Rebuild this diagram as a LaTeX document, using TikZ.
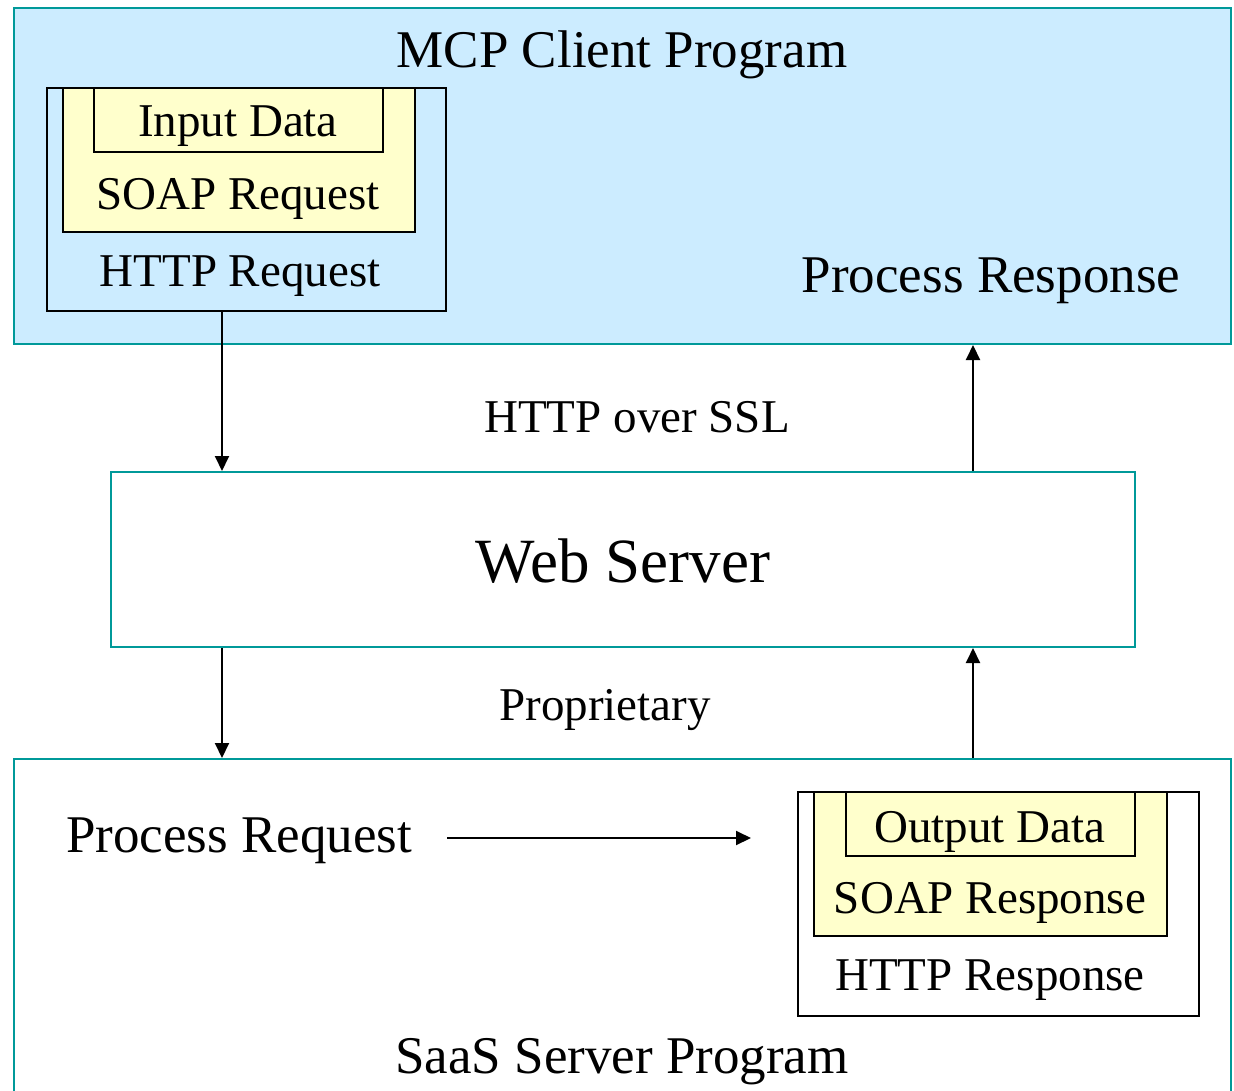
\documentclass[tikz,border=0pt]{standalone}
\usepackage{fontspec}
\setmainfont{Liberation Serif}
\usetikzlibrary{arrows.meta}
\definecolor{lblue}{HTML}{CCECFF}
\definecolor{lyellow}{HTML}{FFFFCC}
\definecolor{teal2}{HTML}{009999}
\begin{document}
\begin{tikzpicture}[x=1pt,y=-1pt,
  outerbox/.style={draw=teal2,line width=2pt,anchor=north west,inner sep=0pt},
  blackbox/.style={draw=black,line width=2pt,anchor=north west,inner sep=0pt},
  big/.style={font=\fontsize{53}{60}\selectfont,anchor=base,inner sep=0pt},
  med/.style={font=\fontsize{47}{54}\selectfont,anchor=base,inner sep=0pt},
  huge/.style={font=\fontsize{63}{70}\selectfont,anchor=base,inner sep=0pt},
  arr/.style={line width=2pt,-{Triangle[length=15pt,width=14pt]}}]
\useasboundingbox (0,0) rectangle (1234,1091);
\fill[white] (0,0) rectangle (1234,1091);
% top client box
\node[outerbox,fill=lblue,minimum width=1217pt,minimum height=336pt] (client) at (13,7) {};
\node[blackbox,minimum width=399pt,minimum height=223pt] (httpreq) at (46,87) {};
\node[blackbox,fill=lyellow,minimum width=352pt,minimum height=144pt] (soapreq) at (62,87) {};
\node[blackbox,minimum width=289pt,minimum height=64pt] (indata) at (93,87) {};
\node[big] (t1) at (622,68) {MCP Client Program};
\node[med] (t2) at (238,137) {Input Data};
\node[med] (t3) at (238,210) {SOAP Request};
\node[med] (t4) at (240,287) {HTTP Request};
\node[big] (t5) at (991,293) {Process Response};
% web server
\node[outerbox,fill=white,minimum width=1024pt,minimum height=175pt] (ws) at (110,471) {};
\node[huge] (t6) at (623,582) {Web Server};
\node[med] (t7) at (637,432) {HTTP over SSL};
\node[med] (t8) at (605,720) {Proprietary};
% bottom server box
\node[outerbox,fill=white,minimum width=1217pt,minimum height=340pt] (saas) at (13,758) {};
\node[blackbox,minimum width=401pt,minimum height=224pt] (httpresp) at (797,791) {};
\node[blackbox,fill=lyellow,minimum width=353pt,minimum height=144pt] (soapresp) at (813,791) {};
\node[blackbox,minimum width=289pt,minimum height=64pt] (outdata) at (845,791) {};
\node[big,anchor=base west] (t9) at (66,852) {Process Request};
\node[med] (t10) at (990,842) {Output Data};
\node[med] (t11) at (990,913) {SOAP Response};
\node[med] (t12) at (990,990) {HTTP Response};
\node[big] (t13) at (622,1073) {SaaS Server Program};
% connectors
\coordinate (cl) at (222,0);
\coordinate (cr) at (973,0);
\coordinate (pr1) at (447,838);
\coordinate (pr2) at (751,838);
\draw[arr] (httpreq.south -| cl) -- (ws.north -| cl);
\draw[arr] (ws.north -| cr) -- (client.south -| cr);
\draw[arr] (ws.south -| cl) -- (saas.north -| cl);
\draw[arr] (saas.north -| cr) -- (ws.south -| cr);
\draw[arr] (pr1) -- (pr2);
\end{tikzpicture}
\end{document}
